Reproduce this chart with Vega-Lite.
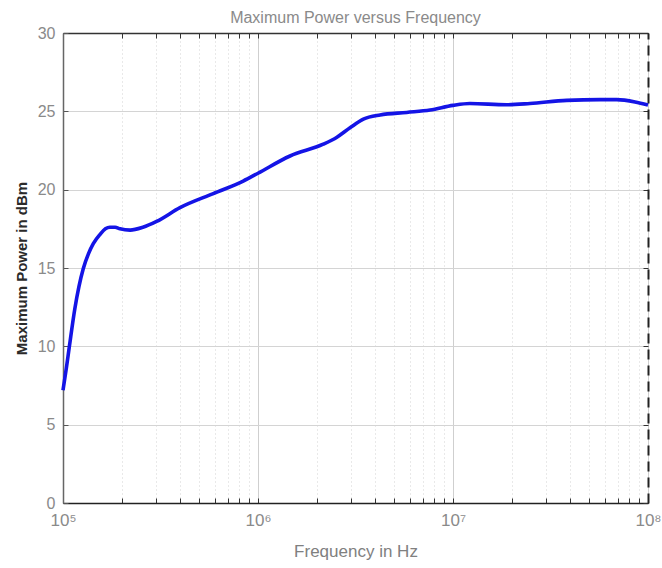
{
  "$schema": "https://vega.github.io/schema/vega-lite/v6.json",
  "width": 585,
  "height": 470,
  "autosize": {"type": "none"},
  "padding": {"left": 63, "top": 33, "right": 14, "bottom": 65},
  "background": "white",
  "config": {
    "view": {"stroke": null},
    "font": "Liberation Sans"
  },
  "title": {
    "text": "Maximum Power versus Frequency",
    "fontSize": 16,
    "fontWeight": "normal",
    "color": "#8a8a8a",
    "font": "Liberation Sans",
    "anchor": "middle",
    "offset": -1
  },
  "data": {
    "values": [
      {"freq": 100000, "power": 7.2},
      {"freq": 104000, "power": 8.6},
      {"freq": 107700, "power": 9.95},
      {"freq": 115000, "power": 12.4},
      {"freq": 127000, "power": 14.95},
      {"freq": 135000, "power": 15.9},
      {"freq": 143000, "power": 16.55},
      {"freq": 155000, "power": 17.15},
      {"freq": 165000, "power": 17.5},
      {"freq": 174000, "power": 17.6},
      {"freq": 185000, "power": 17.6},
      {"freq": 196000, "power": 17.5},
      {"freq": 221000, "power": 17.42},
      {"freq": 257000, "power": 17.6},
      {"freq": 302000, "power": 17.97},
      {"freq": 398000, "power": 18.85},
      {"freq": 590000, "power": 19.75},
      {"freq": 840000, "power": 20.55},
      {"freq": 1000000, "power": 21.05},
      {"freq": 1460000, "power": 22.15},
      {"freq": 2160000, "power": 22.9},
      {"freq": 2540000, "power": 23.35},
      {"freq": 2965000, "power": 23.95},
      {"freq": 3470000, "power": 24.5},
      {"freq": 4230000, "power": 24.77},
      {"freq": 5790000, "power": 24.93},
      {"freq": 7630000, "power": 25.08},
      {"freq": 10000000, "power": 25.38},
      {"freq": 12200000, "power": 25.5},
      {"freq": 18800000, "power": 25.42},
      {"freq": 24800000, "power": 25.5},
      {"freq": 38300000, "power": 25.7},
      {"freq": 56800000, "power": 25.75},
      {"freq": 69200000, "power": 25.75},
      {"freq": 85800000, "power": 25.6},
      {"freq": 100000000, "power": 25.4}
    ]
  },
  "resolve": {"axis": {"x": "independent", "y": "independent"}},
  "layer": [
    {
      "mark": {"type": "line", "color": "#1414e6", "strokeWidth": 3.6, "interpolate": "monotone"},
      "encoding": {
        "x": {
          "field": "freq",
          "type": "quantitative",
          "scale": {"type": "log", "domain": [100000, 100000000], "nice": false},
          "axis": {
            "orient": "bottom",
            "title": "Frequency in Hz",
            "titleFont": "Liberation Sans",
            "titleFontSize": 17,
            "titleFontWeight": "normal",
            "titleColor": "#808080",
            "titlePadding": 15,
            "values": [100000, 200000, 300000, 400000, 500000, 600000, 700000, 800000, 900000, 1000000, 2000000, 3000000, 4000000, 5000000, 6000000, 7000000, 8000000, 9000000, 10000000, 20000000, 30000000, 40000000, 50000000, 60000000, 70000000, 80000000, 90000000, 100000000],
            "labelExpr": "datum.value == 100000 ? '10⁵' : datum.value == 1000000 ? '10⁶' : datum.value == 10000000 ? '10⁷' : datum.value == 100000000 ? '10⁸' : ''",
            "labelOverlap": false,
            "labelFlush": false,
            "labelFont": "Liberation Sans",
            "labelFontSize": 17,
            "labelColor": "#8a8a8a",
            "labelPadding": 14,
            "tickSize": -5,
            "tickColor": "#333333",
            "tickWidth": 1,
            "domainColor": "#222222",
            "domainWidth": 1.5,
            "grid": true,
            "gridColor": {"condition": {"test": "indexof([100000,1000000,10000000,100000000], datum.value) >= 0", "value": "#cfcfcf"}, "value": "#d2d2d2"},
            "gridDash": {"condition": {"test": "indexof([100000,1000000,10000000,100000000], datum.value) >= 0", "value": []}, "value": [1, 3]},
            "gridWidth": 1
          }
        },
        "y": {
          "field": "power",
          "type": "quantitative",
          "scale": {"domain": [0, 30], "nice": false, "zero": true},
          "axis": {
            "orient": "left",
            "title": "Maximum Power in dBm",
            "titleFont": "Liberation Sans",
            "titleFontSize": 15,
            "titleFontWeight": "bold",
            "titleColor": "#2a2a2a",
            "titlePadding": 8,
            "values": [0, 5, 10, 15, 20, 25, 30],
            "labelFont": "Liberation Sans",
            "labelFontSize": 16,
            "labelColor": "#8a8a8a",
            "labelPadding": 13,
            "tickSize": -5,
            "tickColor": "#555555",
            "domainColor": "#666666",
            "domainWidth": 1.5,
            "grid": true,
            "gridColor": "#d4d4d4",
            "gridWidth": 1
          }
        }
      }
    },
    {
      "mark": {"type": "point", "opacity": 0},
      "encoding": {
        "x": {
          "field": "freq",
          "type": "quantitative",
          "scale": {"type": "log", "domain": [100000, 100000000], "nice": false},
          "axis": {
            "orient": "top",
            "title": null,
            "labels": false,
            "grid": false,
            "values": [100000, 200000, 300000, 400000, 500000, 600000, 700000, 800000, 900000, 1000000, 2000000, 3000000, 4000000, 5000000, 6000000, 7000000, 8000000, 9000000, 10000000, 20000000, 30000000, 40000000, 50000000, 60000000, 70000000, 80000000, 90000000, 100000000],
            "tickSize": -5,
            "tickColor": "#333333",
            "domainColor": "#333333",
            "domainWidth": 1.5
          }
        },
        "y": {
          "field": "power",
          "type": "quantitative",
          "scale": {"domain": [0, 30], "nice": false, "zero": true},
          "axis": {
            "orient": "right",
            "title": null,
            "labels": false,
            "grid": false,
            "values": [0, 5, 10, 15, 20, 25, 30],
            "tickSize": -5,
            "tickColor": "#333333",
            "domainColor": "#222222",
            "domainWidth": 2,
            "domainDash": [10, 6]
          }
        }
      }
    }
  ]
}
